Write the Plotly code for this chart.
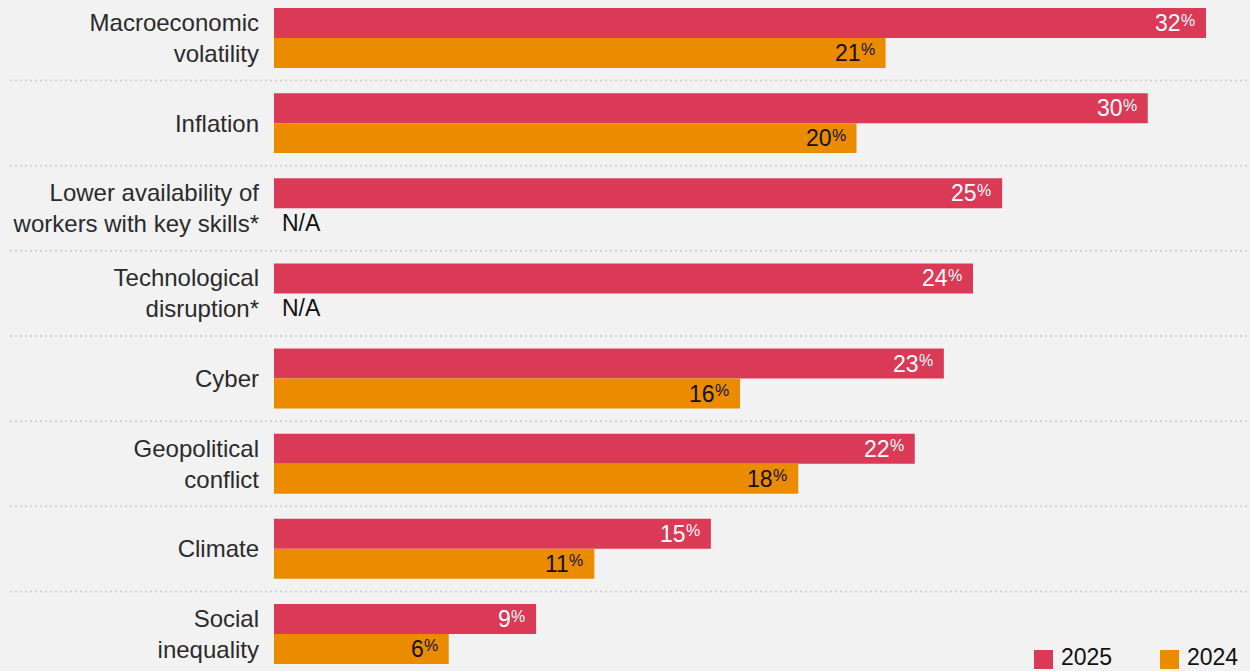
import plotly.graph_objects as go

# Survey results: share of respondents citing each risk
categories = [
    "Macroeconomic<br>volatility",
    "Inflation",
    "Lower availability of<br>workers with key skills*",
    "Technological<br>disruption*",
    "Cyber",
    "Geopolitical<br>conflict",
    "Climate",
    "Social<br>inequality",
]
values_2025 = [32, 30, 25, 24, 23, 22, 15, 9]
values_2024 = [21, 20, None, None, 16, 18, 11, 6]

RED = "#DA3A56"
ORANGE = "#EB8C00"
BG = "#F2F2F2"
FONT = "Liberation Sans, Arial, sans-serif"

W, H = 1250, 671
LEFT = 274
BAR_W = 0.352
pos = list(range(len(categories)))

fig = go.Figure()
fig.add_trace(go.Bar(
    y=pos, x=values_2025, orientation="h", name="2025",
    marker=dict(color=RED, line=dict(width=0)),
    offset=-BAR_W, width=BAR_W, showlegend=False, hoverinfo="skip",
))
fig.add_trace(go.Bar(
    y=pos, x=[v if v is not None else 0 for v in values_2024], orientation="h", name="2024",
    marker=dict(color=ORANGE, line=dict(width=0)),
    offset=0, width=BAR_W, showlegend=False, hoverinfo="skip",
))


def value_label(x, y, value, color):
    """Number plus a smaller, slightly raised percent sign at the bar's end."""
    return [
        dict(x=x, y=y, xref="x", yref="y", xanchor="right", yanchor="middle",
             xshift=-23, yshift=0, showarrow=False, text=str(value),
             font=dict(family=FONT, size=23, color=color)),
        dict(x=x, y=y, xref="x", yref="y", xanchor="right", yanchor="middle",
             xshift=-9, yshift=3, showarrow=False, text="%",
             font=dict(family=FONT, size=16, color=color)),
    ]


annotations = []
for i, (a, b) in enumerate(zip(values_2025, values_2024)):
    annotations += value_label(a, i - BAR_W / 2, a, "white")
    if b is None:
        annotations.append(dict(
            x=0, y=i + BAR_W / 2, xref="x", yref="y", xanchor="left", yanchor="middle",
            xshift=6, showarrow=False, text="N/A",
            font=dict(family=FONT, size=23, color="#111111"),
        ))
    else:
        annotations += value_label(b, i + BAR_W / 2, b, "#111111")

# dotted separators between groups
shapes = []
for i in range(len(categories) - 1):
    shapes.append(dict(
        type="line", xref="paper", yref="y",
        x0=-(LEFT - 10) / (W - LEFT), x1=1, y0=i + 0.5, y1=i + 0.5,
        line=dict(color="#D2D2D2", width=2, dash="2px,3px"), layer="below",
    ))

# legend swatches
legend_items = [("2025", RED, 1034), ("2024", ORANGE, 1160)]
for label, color, px in legend_items:
    shapes.append(dict(
        type="rect", xref="paper", yref="paper",
        x0=(px - LEFT) / (W - LEFT), x1=(px + 19 - LEFT) / (W - LEFT),
        y0=2 / H, y1=21 / H, fillcolor=color, line=dict(width=0),
    ))
    annotations.append(dict(
        x=(px + 25 - LEFT) / (W - LEFT), y=14 / H, xref="paper", yref="paper",
        xanchor="left", yanchor="middle", showarrow=False, text=label,
        font=dict(family=FONT, size=23, color="#111111"),
    ))

px_per_unit = (1206 - LEFT) / 32
pitch = 85.14
fig.update_layout(
    width=W, height=H,
    margin=dict(l=LEFT, r=0, t=0, b=0),
    paper_bgcolor=BG, plot_bgcolor=BG,
    barmode="overlay",
    xaxis=dict(range=[0, (W - LEFT) / px_per_unit], visible=False, fixedrange=True),
    yaxis=dict(
        range=[(H - 38) / pitch, -38 / pitch],
        tickvals=pos, ticktext=categories,
        tickfont=dict(family=FONT, size=24, color="#2B2B2B"),
        showgrid=False, zeroline=False, showline=False, ticks="",
        ticklabelstandoff=14, fixedrange=True,
    ),
    shapes=shapes, annotations=annotations,
    showlegend=False,
)

fig.write_html("out.html", config={"displayModeBar": False})
